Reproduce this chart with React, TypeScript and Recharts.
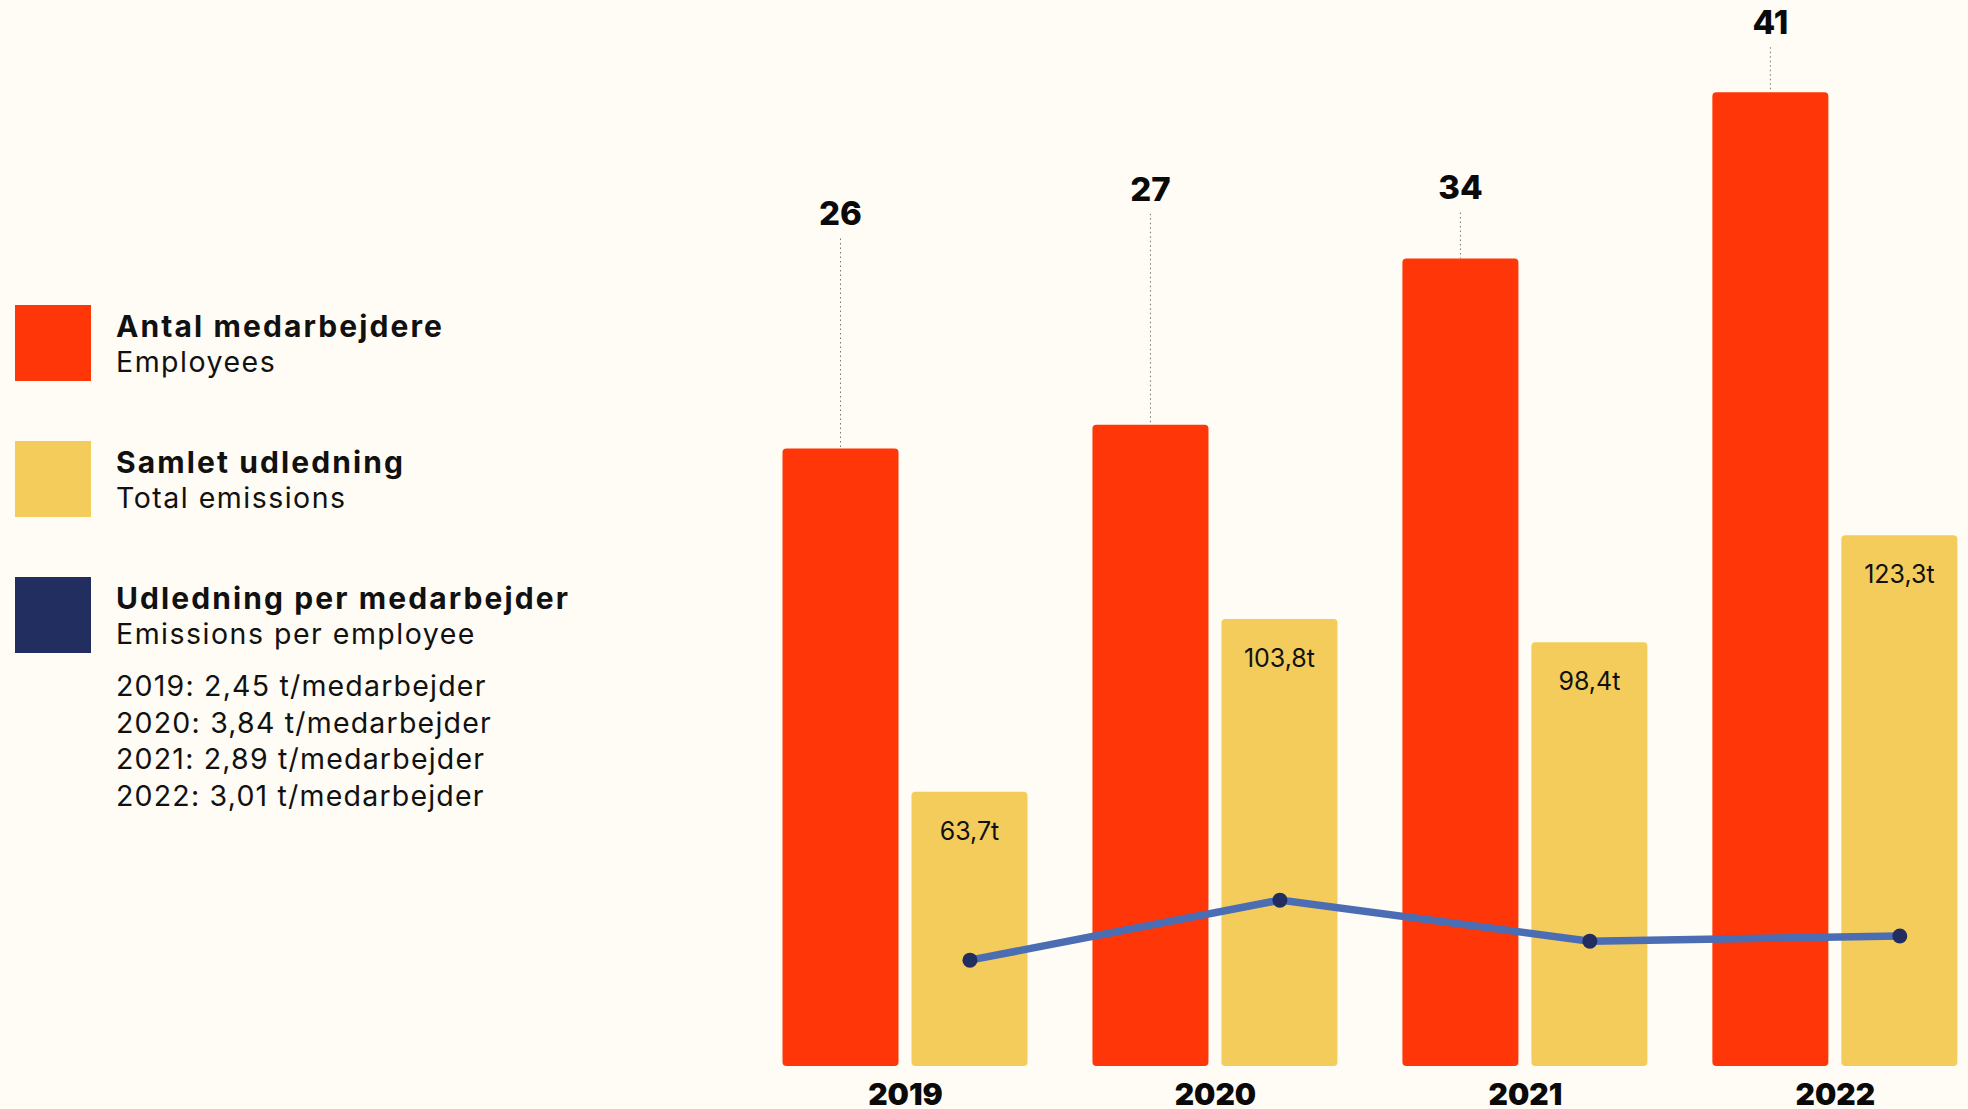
import { ComposedChart, Bar, Line, XAxis, YAxis, Legend, LabelList } from "recharts";

const YEARS = [2019, 2020, 2021, 2022];
const EMPLOYEES = [26, 27, 34, 41];
const EMISSIONS = [63.7, 103.8, 98.4, 123.3];
const PER_EMPLOYEE = [2.45, 3.84, 2.89, 3.01];

const LEGEND_ITEMS = [
  { title: "Antal medarbejdere", sub: "Employees", color: "#FF3608" },
  { title: "Samlet udledning", sub: "Total emissions", color: "#F3CC5C" },
  { title: "Udledning per medarbejder", sub: "Emissions per employee", color: "#232E60" },
];

// distance from bar top to the count label baseline
const LEADER_LEN = [223, 224, 59, 58];

const BG = "#FFFCF5";
const FONT = "Inter, 'Noto Sans', sans-serif";

const data = YEARS.map((year, i) => ({
  year,
  employees: EMPLOYEES[i],
  emissions: EMISSIONS[i],
  perEmployee: PER_EMPLOYEE[i],
}));

const fmt = (v: number, d: number) => v.toFixed(d).replace(".", ",");

function LegendBlock() {
  return (
    <svg width={620} height={900} style={{ display: "block" }}>
      {LEGEND_ITEMS.map((it, i) => {
        const top = 305 + i * 136;
        return (
          <g key={it.title}>
            <rect x={15} y={top} width={76} height={76} fill={it.color} />
            <text x={116} y={top + 32} fontFamily={FONT} fontSize={30} fontWeight={700} letterSpacing={2.1} fill="#111">
              {it.title}
            </text>
            <text x={116} y={top + 67} fontFamily={FONT} fontSize={28.5} letterSpacing={1.5} fill="#111">
              {it.sub}
            </text>
          </g>
        );
      })}
      {YEARS.map((y, i) => (
        <text key={y} x={116} y={696 + i * 36.7} fontFamily={FONT} fontSize={28.5} letterSpacing={1.2} fill="#111">
          {`${y}: ${fmt(PER_EMPLOYEE[i], 2)} t/medarbejder`}
        </text>
      ))}
    </svg>
  );
}

function CountLabel(props: any) {
  const { x, y, width, value, index } = props;
  const cx = x + width / 2;
  const base = y - LEADER_LEN[index];
  return (
    <g>
      <line x1={cx} x2={cx} y1={base + 13} y2={y} stroke="#777" strokeWidth={1} strokeDasharray="1.5 3" />
      <text x={cx} y={base} textAnchor="middle" fontFamily={FONT} fontSize={33} fontWeight={800} fill="#0a0a0a">
        {value}
      </text>
    </g>
  );
}

function EmissionLabel(props: any) {
  const { x, y, width, value } = props;
  return (
    <text x={x + width / 2} y={y + 48} textAnchor="middle" fontFamily={FONT} fontSize={25} fill="#111">
      {fmt(value, 1) + "t"}
    </text>
  );
}

function YearTick(props: any) {
  const { x, y, payload } = props;
  return (
    <text x={x} y={y + 39} textAnchor="middle" fontFamily={FONT} fontSize={30} fontWeight={900} fill="#0a0a0a">
      {payload.value}
    </text>
  );
}

export default function App() {
  return (
    <div style={{ width: 1968, height: 1109, background: BG, position: "relative", overflow: "hidden" }}>
      <style>{"body{margin:0}"}</style>
      <ComposedChart
        width={1968}
        height={1109}
        data={data}
        margin={{ top: 0, right: 0, bottom: 0, left: 750.5 }}
        barGap={13}
      >
        <XAxis
          xAxisId="bars"
          type="number"
          dataKey="year"
          domain={[2018.5, 2022.428]}
          ticks={YEARS}
          axisLine={false}
          tickLine={false}
          tickSize={0}
          tickMargin={0}
          height={43}
          tick={<YearTick />}
          interval={0}
        />
        <XAxis xAxisId="line" type="number" dataKey="year" domain={[2018.292, 2022.22]} hide />
        <YAxis yAxisId="emp" domain={[0, 44.884]} hide />
        <YAxis yAxisId="ems" domain={[0, 247.6]} hide />
        <YAxis yAxisId="per" domain={[0, 24.68]} hide />
        <Legend
          layout="horizontal"
          verticalAlign="middle"
          align="center"
          wrapperStyle={{ left: 0, top: 0, width: 620, height: 900 }}
          content={() => <LegendBlock />}
        />
        <Bar
          xAxisId="bars"
          yAxisId="emp"
          dataKey="employees"
          fill="#FF3608"
          barSize={116}
          radius={[4, 4, 4, 4]}
          isAnimationActive={false}
        >
          <LabelList dataKey="employees" content={<CountLabel />} />
        </Bar>
        <Bar
          xAxisId="bars"
          yAxisId="ems"
          dataKey="emissions"
          fill="#F3CC5C"
          barSize={116}
          radius={[4, 4, 4, 4]}
          isAnimationActive={false}
        >
          <LabelList dataKey="emissions" content={<EmissionLabel />} />
        </Bar>
        <Line
          xAxisId="line"
          yAxisId="per"
          dataKey="perEmployee"
          stroke="#4A6DB3"
          strokeWidth={7.5}
          dot={{ r: 7.5, fill: "#232E60", stroke: "none" }}
          activeDot={false}
          isAnimationActive={false}
        />
      </ComposedChart>
    </div>
  );
}
